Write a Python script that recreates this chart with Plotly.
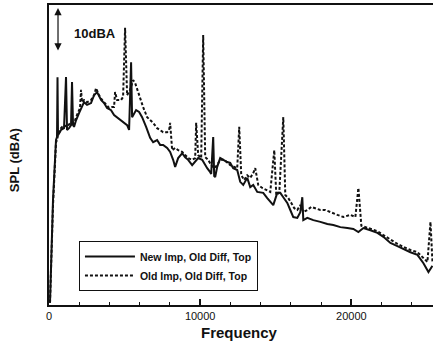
import plotly.graph_objects as go

# Frequency (Hz) and SPL (dBA)
new_freq = [66, 265, 464, 530, 563, 596, 795, 993, 1126, 1192, 1325, 1457, 1523, 1589, 1656,
            1788, 1987, 2185, 2318, 2517, 2781, 2980, 3179, 3444, 3642, 3841, 4106, 4305, 4503,
            4768, 4967, 5166, 5298, 5430, 5497, 5762, 5960, 6159, 6424, 6689, 6887, 7152, 7351,
            7550, 7815, 8013, 8212, 8344, 8543, 8808, 9007, 9205, 9470, 9669, 9868, 10132, 10331,
            10464, 10662, 10728, 10861, 10927, 10993, 11126, 11325, 11523, 11788, 11987, 12185,
            12450, 12649, 12848, 13113, 13311, 13510, 13775, 14172, 14437, 14636, 14834, 15099,
            15298, 15497, 15762, 15960, 16159, 16424, 16623, 16755, 16821, 17086, 17483, 17947,
            18411, 18808, 19272, 19735, 20132, 20464, 20795, 21258, 21722, 22119, 22583, 23046,
            23444, 23907, 24371, 24768, 25099, 25364]
new_spl = [20.5, 43.9, 57.5, 58.2, 71.8, 58.6, 59.8, 60.2, 71.8, 59.8, 60.2, 60.9, 70.7, 60.9, 60.5,
           62.0, 63.6, 65.0, 66.1, 65.5, 65.9, 67.7, 68.4, 66.6, 65.9, 64.8, 64.3, 63.2, 62.7,
           62.0, 61.6, 60.9, 59.8, 75.2, 62.7, 64.3, 63.9, 62.7, 60.5, 58.0, 57.0, 57.5, 56.4,
           56.4, 55.7, 54.8, 53.0, 51.4, 53.4, 54.5, 53.6, 53.0, 51.8, 52.5, 53.4, 53.0, 51.8,
           51.1, 50.2, 49.8, 58.2, 49.3, 49.1, 51.4, 53.4, 53.0, 52.5, 52.3, 51.1,
           50.7, 48.0, 47.3, 48.9, 46.8, 47.3, 45.7, 45.5, 44.3, 43.4, 42.7, 45.5,
           45.5, 44.5, 43.2, 41.6, 40.0, 39.8, 41.1, 44.5, 39.3, 39.8, 39.3, 38.9,
           38.4, 38.2, 37.7, 37.5, 37.3, 36.6, 37.5, 37.0, 36.4, 35.5, 34.1, 33.4,
           32.7, 32.0, 31.4, 29.5, 27.5, 28.9]

old_freq = [66, 265, 464, 530, 596, 795, 993, 1192, 1457, 1656, 1854, 2053, 2119, 2185, 2318,
            2517, 2781, 2980, 3113, 3311, 3510, 3709, 3974, 4172, 4305, 4371, 4503, 4768, 4901,
            5033, 5166, 5364, 5563, 5695, 5894, 6026, 6225, 6490, 6689, 6887, 7152, 7351, 7550,
            7815, 7947, 8013, 8146, 8344, 8543, 8808, 9007, 9205, 9470, 9669, 9735, 9868, 10066,
            10199, 10331, 10530, 10728, 10927, 11126, 11325, 11589, 11788, 11987, 12252, 12450,
            12583, 12715, 12914, 13113, 13311, 13510, 13642, 13841, 14106, 14371, 14636, 14901,
            15033, 15232, 15497, 15629, 15828, 16026, 16225, 16424, 16623, 16821, 17086, 17351,
            17616, 17947, 18278, 18609, 19073, 19470, 19934, 20265, 20464, 20662, 20927, 21258,
            21722, 22119, 22583, 23046, 23444, 23907, 24371, 24768, 25033, 25232, 25364]
old_spl = [20.5, 42.7, 57.0, 57.5, 58.6, 60.2, 60.9, 60.5, 61.6, 61.4, 63.2, 64.8, 68.9, 66.1, 66.6,
           66.1, 66.6, 67.7, 69.3, 67.7, 66.6, 65.9, 64.8, 65.0, 65.0, 68.4, 66.6, 66.6, 67.3,
           83.0, 67.7, 68.9, 71.1, 70.5, 68.4, 66.6, 65.0, 62.7, 62.0, 61.4, 60.2, 59.8, 59.3,
           59.3, 59.8, 61.4, 55.2, 55.7, 55.2, 54.8, 54.1, 53.4, 53.0, 53.4, 61.4, 54.1, 53.4,
           81.4, 53.6, 53.0, 51.8, 51.1, 51.8, 53.0, 53.0, 52.5, 51.8, 51.4, 51.1,
           60.5, 49.5, 48.4, 49.5, 48.9, 50.0, 51.1, 47.3, 46.6, 46.1, 45.7, 55.2,
           45.0, 45.5, 62.7, 45.0, 44.3, 43.2, 42.0, 41.6, 42.7, 41.1, 41.6, 42.3,
           42.0, 41.6, 41.6, 41.1, 40.5, 40.0, 40.5, 40.0, 46.6, 38.0, 37.7, 37.3,
           36.8, 35.9, 34.8, 33.9, 33.2, 32.5, 32.0, 30.7, 29.8, 38.9, 29.8]

x_ticks = [0, 10000, 20000]
x_tick_labels = ["0", "10000", "20000"]

fig = go.Figure()
fig.add_trace(go.Scatter(x=new_freq, y=new_spl, mode="lines", name="New Imp, Old Diff, Top",
                         line=dict(color="#111111", width=2)))
fig.add_trace(go.Scatter(x=old_freq, y=old_spl, mode="lines", name="Old Imp, Old Diff, Top",
                         line=dict(color="#111111", width=2, dash="3px,2px")))

# 10 dBA scale arrow
fig.add_annotation(x=596, y=87.5, ax=596, ay=77.5, xref="x", yref="y", axref="x", ayref="y",
                   text="", showarrow=True, arrowhead=2, arrowside="end+start",
                   arrowsize=1.2, arrowwidth=1.2, arrowcolor="#111111")
fig.add_annotation(x=3046, y=81.8, xref="x", yref="y", text="<b>10dBA</b>", showarrow=False,
                   xanchor="center", yanchor="middle",
                   font=dict(family="Liberation Sans", size=13, color="#111111"))

fig.add_annotation(x=-0.091, y=0.483, xref="paper", yref="paper", text="<b>SPL (dBA)</b>",
                   textangle=-90, showarrow=False, xanchor="center", yanchor="middle",
                   font=dict(family="Liberation Sans", size=13, color="#111111"))
fig.add_annotation(x=0.497, y=-0.093, xref="paper", yref="paper", text="<b>Frequency</b>",
                   showarrow=False, xanchor="center", yanchor="middle",
                   font=dict(family="Liberation Sans", size=15, color="#111111"))

fig.update_layout(
    width=433, height=348,
    margin=dict(l=49, r=0, t=5, b=43),
    paper_bgcolor="white", plot_bgcolor="white",
    showlegend=True,
    legend=dict(x=0.078, y=0.213, xanchor="left", yanchor="top",
                bordercolor="#111111", borderwidth=1, bgcolor="white",
                itemwidth=50, tracegroupgap=0,
                font=dict(family="Liberation Sans", size=10.5, color="#111111", weight="bold")),
    xaxis=dict(range=[0, 25400], showgrid=False, zeroline=False,
               showline=True, linecolor="#111111", linewidth=2, mirror=True,
               tickmode="array", tickvals=x_ticks, ticktext=x_tick_labels,
               ticks="inside", ticklen=6, tickwidth=1.5, tickcolor="#111111",
               minor=dict(dtick=2000, ticks="inside", ticklen=3, tickcolor="#111111", tickwidth=1),
               tickfont=dict(family="Liberation Sans", size=11, color="#111111")),
    yaxis=dict(range=[20, 88.2], showgrid=False, zeroline=False, showticklabels=False,
               showline=True, linecolor="#111111", linewidth=1.5, ticks=""),
)

fig.write_html("out.html", config={"displayModeBar": False},
               post_script="document.body.style.margin='0';document.body.style.overflow='hidden';")
